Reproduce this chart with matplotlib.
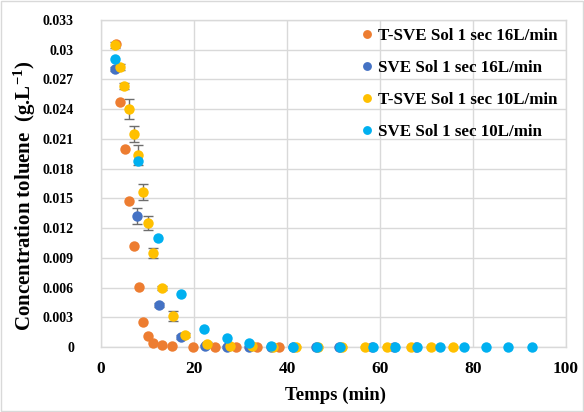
import matplotlib
matplotlib.use('Agg')
import matplotlib.pyplot as plt
from matplotlib.patches import Rectangle

# T-SVE Sol 1 sec 16L/min
t_sve16_x = [3.2, 4.1, 5.2, 6.0, 7.1, 8.2, 9.1, 10.1, 11.2, 13.1, 15.3, 19.8, 24.5, 29.0, 33.5, 38.2]
t_sve16_y = [0.0306, 0.0247, 0.0200, 0.0147, 0.0102, 0.0061, 0.0025, 0.0011, 0.0004, 0.0002,
             0.0001, 0.0, 0.0, 0.0, 0.0, 0.0]

# SVE Sol 1 sec 16L/min
sve16_x = [3.0, 7.7, 12.5, 17.2, 22.4, 27.1, 31.8, 36.6, 41.3, 46.2, 51.2, 58.3, 63.0, 67.8]
sve16_y = [0.0281, 0.0132, 0.0042, 0.0010, 0.0001, 0.0, 0.0, 0.0, 0.0, 0.0, 0.0, 0.0, 0.0, 0.0]
sve16_err = [0.0002, 0.0008, 0.0002, 0.0002, 0.0001, 0.0001, 0.0, 0.0, 0.0, 0.0, 0.0, 0.0, 0.0, 0.0]

# T-SVE Sol 1 sec 10L/min
t_sve10_x = [3.1, 4.1, 5.0, 6.1, 7.1, 8.0, 9.0, 10.1, 11.2, 13.1, 15.5, 18.1, 22.8, 27.7,
             32.5, 37.0, 42.0, 46.7, 51.8, 56.8, 61.6, 66.7, 70.9, 75.6]
t_sve10_y = [0.0305, 0.0283, 0.0263, 0.0240, 0.0215, 0.0194, 0.0156, 0.0125, 0.0095, 0.0060,
             0.0031, 0.0012, 0.0003, 0.0001, 0.0001, 0.0, 0.0, 0.0, 0.0, 0.0, 0.0, 0.0, 0.0, 0.0]
t_sve10_err = [0.0003, 0.0003, 0.0003, 0.0010, 0.0008, 0.0010, 0.0008, 0.0007, 0.0005, 0.0002,
               0.0005, 0.0002, 0.0002, 0.0001, 0.0, 0.0, 0.0, 0.0, 0.0, 0.0, 0.0, 0.0, 0.0, 0.0]

# SVE Sol 1 sec 10L/min
sve10_x = [3.0, 7.9, 12.3, 17.2, 22.2, 27.1, 31.8, 36.5, 41.3, 46.4, 51.4, 58.5, 63.2, 68.0,
           72.9, 78.1, 82.8, 87.5, 92.6]
sve10_y = [0.0291, 0.0188, 0.0110, 0.0053, 0.0018, 0.0009, 0.0004, 0.0001, 0.0, 0.0, 0.0, 0.0,
           0.0, 0.0, 0.0, 0.0, 0.0, 0.0, 0.0]

labels = ['T-SVE Sol 1 sec 16L/min', 'SVE Sol 1 sec 16L/min',
          'T-SVE Sol 1 sec 10L/min', 'SVE Sol 1 sec 10L/min']
colors = ['#ED7D31', '#4472C4', '#FFC000', '#00B0F0']

y_ticks = [0, 0.003, 0.006, 0.009, 0.012, 0.015, 0.018, 0.021, 0.024, 0.027, 0.03, 0.033]
x_ticks = [0, 20, 40, 60, 80, 100]

plt.rcParams['font.family'] = ['Liberation Serif', 'DejaVu Serif']
plt.rcParams['font.weight'] = 'bold'
plt.rcParams['mathtext.fontset'] = 'custom'
plt.rcParams['mathtext.rm'] = 'Liberation Serif:bold'
plt.rcParams['mathtext.bf'] = 'Liberation Serif:bold'
plt.rcParams['mathtext.default'] = 'bf'

fig = plt.figure(figsize=(5.84, 4.12), dpi=100)
fig.patches.append(Rectangle((0.002, 0.002), 0.996, 0.996, transform=fig.transFigure,
                             fill=False, edgecolor='#D9D9D9', linewidth=1))
ax = fig.add_axes([101 / 584, 1 - 347 / 412, 465 / 584, 327 / 412])

grid_c = '#D9D9D9'
ax.set_xlim(0, 100)
ax.set_ylim(0, 0.033)
ax.set_xticks(x_ticks)
ax.set_yticks(y_ticks)
ax.set_yticklabels([('%g' % v) for v in y_ticks], fontsize=10)
ax.set_xticklabels([str(v) for v in x_ticks], fontsize=12.5)
ax.tick_params(axis='both', length=0)
ax.tick_params(axis='y', pad=19.5)
ax.tick_params(axis='x', pad=10)
ax.grid(True, color=grid_c, linewidth=1)
ax.set_axisbelow(True)
for s in ax.spines.values():
    s.set_color(grid_c)
    s.set_linewidth(1)

err_c = '#6E6E6E'
ax.errorbar(sve16_x, sve16_y, yerr=sve16_err, fmt='none', ecolor=err_c, elinewidth=1,
            capsize=3.5, capthick=1, zorder=2, clip_on=False)
ax.errorbar(t_sve10_x, t_sve10_y, yerr=t_sve10_err, fmt='none', ecolor=err_c, elinewidth=1,
            capsize=3.5, capthick=1, zorder=2, clip_on=False)

series = [(t_sve16_x, t_sve16_y), (sve16_x, sve16_y), (t_sve10_x, t_sve10_y), (sve10_x, sve10_y)]
for i, (xs, ys) in enumerate(series):
    ax.plot(xs, ys, 'o', color=colors[i], markersize=7.5, markeredgewidth=0,
            label=labels[i], zorder=3 + i, clip_on=False)

leg = ax.legend(loc='upper left', bbox_to_anchor=(362 / 584, 1 - 28 / 412),
                bbox_transform=fig.transFigure, frameon=False, fontsize=12.2,
                handlelength=0.6, handletextpad=0.35, labelspacing=0.95,
                borderaxespad=0, borderpad=0, markerscale=0.85)

ax.set_ylabel('Concentration toluene  (g.L$^{-1}$)', fontsize=15, fontweight='bold')
ax.yaxis.set_label_coords(-0.135, 0.462)
ax.set_xlabel('Temps (min)', fontsize=13.5, fontweight='bold')
ax.xaxis.set_label_coords(0.505, -0.12)

fig.savefig('out.png', dpi=100)
